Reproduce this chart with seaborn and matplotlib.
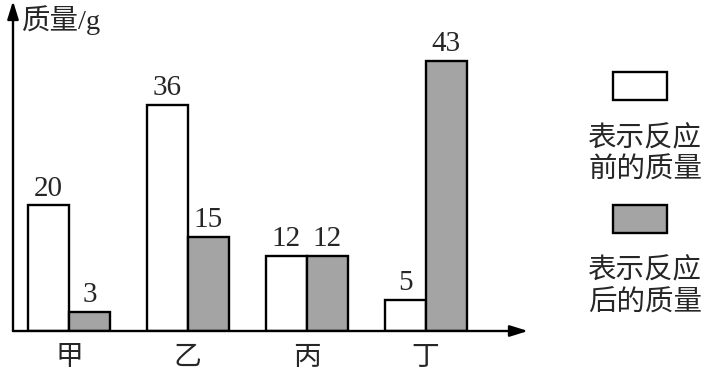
import matplotlib
matplotlib.use("Agg")
import matplotlib.pyplot as plt
from matplotlib.patches import Rectangle
import seaborn as sns
import pandas as pd

categories = ["甲", "乙", "丙", "丁"]
before = [20, 36, 12, 5]
after = [3, 15, 12, 43]
stages = ["前", "后"]
legend_lines = [["表示反应", "前的质量"], ["表示反应", "后的质量"]]
y_label = "质量/g"

WHITE = "#ffffff"
GRAY = "#a4a4a4"

df = pd.DataFrame({
    "cat": categories * 2,
    "mass": before + after,
    "stage": [stages[0]] * len(categories) + [stages[1]] * len(categories),
})

sns.set_theme(style="white")
plt.rcParams["font.family"] = ["Liberation Serif", "Noto Sans CJK SC", "DejaVu Sans"]

W, H = 713, 377
fig = plt.figure(figsize=(W / 100, H / 100), dpi=100)
fig.patch.set_facecolor("white")

def fx(px):
    return px / W

def fy(py):
    return 1 - py / H

ax_left, ax_right, ax_top, ax_bottom = 13, 528, 1, 331
ax = fig.add_axes([fx(ax_left), fy(ax_bottom), fx(ax_right - ax_left), (ax_bottom - ax_top) / H])

sns.barplot(data=df, x="cat", y="mass", hue="stage", order=categories, hue_order=stages,
            palette=[WHITE, GRAY], edgecolor="black", linewidth=1.7, width=0.69,
            gap=0, legend=False, ax=ax, zorder=2)

ax.set_xlim(-0.47, 3.86)
ax.set_ylim(0, 52.5)
for s in ax.spines.values():
    s.set_visible(False)
ax.set_yticks([])
ax.set_xlabel("")
ax.set_ylabel("")
ax.tick_params(axis="x", length=0, pad=8)
ax.set_xticks(range(len(categories)))
ax.set_xticklabels(categories, fontsize=20, family=["Noto Sans CJK SC"])
ax.set_facecolor("none")

# axes arrows
arrow = dict(arrowstyle="-|>,head_length=0.9,head_width=0.28", color="black", lw=1.7,
             shrinkA=0, shrinkB=0)
ax.annotate("", xy=(1, 0), xycoords="axes fraction", xytext=(0, 0), arrowprops=arrow,
            annotation_clip=False, zorder=5)
ax.annotate("", xy=(0, 1), xycoords="axes fraction", xytext=(0, 0), arrowprops=arrow,
            annotation_clip=False, zorder=5)

# value labels
for bar_container in ax.containers:
    for rect in bar_container:
        h = rect.get_height()
        ax.annotate(f"{int(round(h))}", xy=(rect.get_x() + rect.get_width() / 2, h),
                    xytext=(0, 7), textcoords="offset points", ha="center", va="baseline",
                    fontsize=21, family=["Liberation Serif"])

# y label
fig.text(fx(22), fy(20), y_label, ha="left", va="center", fontsize=20.5,
         family=["Liberation Serif", "Noto Sans CJK SC"])

# legend
box_tops = [72, 205]
text_rows = [[138, 170], [270, 303]]
for i, color in enumerate([WHITE, GRAY]):
    top = box_tops[i]
    fig.patches.append(Rectangle((fx(613), fy(top + 28)), fx(54), 28 / H,
                                 transform=fig.transFigure, facecolor=color,
                                 edgecolor="black", linewidth=1.7))
    for line, yc in zip(legend_lines[i], text_rows[i]):
        fig.text(fx(645), fy(yc), line, ha="center", va="center", fontsize=20.5,
                 family=["Noto Sans CJK SC"])

fig.savefig("out.png", dpi=100, facecolor="white")
